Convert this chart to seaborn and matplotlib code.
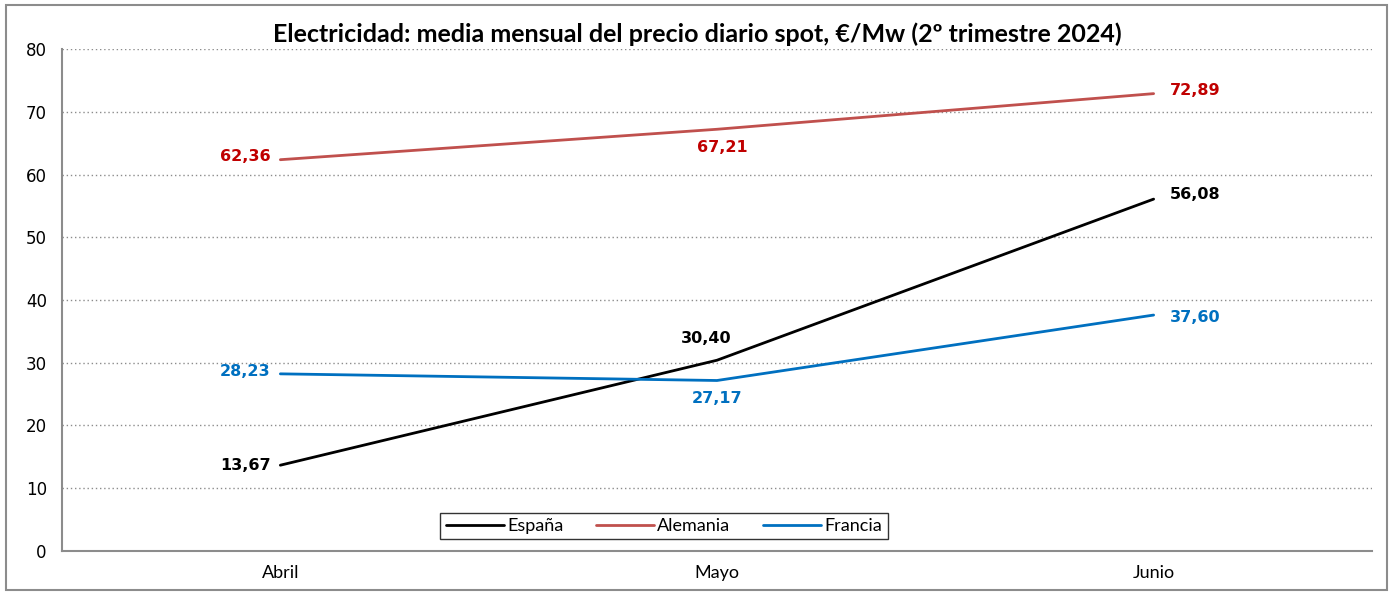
import pandas as pd
import seaborn as sns
import matplotlib.pyplot as plt
from matplotlib.patches import Rectangle

# datos: media mensual del precio diario spot (2º trimestre 2024)
meses = ['Abril', 'Mayo', 'Junio']
espana = [13.67, 30.40, 56.08]
alemania = [62.36, 67.21, 72.89]
francia = [28.23, 27.17, 37.60]
paises = ['España', 'Alemania', 'Francia']
colores = {'España': '#000000', 'Alemania': '#C0504D', 'Francia': '#0070C0'}
color_etiqueta = {'España': '#000000', 'Alemania': '#C00000', 'Francia': '#0070C0'}

df = pd.DataFrame({
    'mes': meses * 3,
    'pais': ['España'] * 3 + ['Alemania'] * 3 + ['Francia'] * 3,
    'precio': espana + alemania + francia,
})

sns.set_style('white')
plt.rcParams['font.family'] = ['Lato', 'DejaVu Sans']
plt.rcParams['text.color'] = 'black'
plt.rcParams['xtick.color'] = 'black'
plt.rcParams['ytick.color'] = 'black'
plt.rcParams['axes.labelcolor'] = 'black'

fig = plt.figure(figsize=(13.91, 5.92), dpi=100)
ax = fig.add_axes([0.0446, 0.0693, 0.9417, 0.8479])

sns.lineplot(data=df, x='mes', y='precio', hue='pais', hue_order=paises,
             palette=colores, linewidth=2, ax=ax, sort=False)

ax.set_xlim(-0.5, 2.5)
ax.set_ylim(0, 80)
ax.set_yticks(range(0, 81, 10))
ax.set_xlabel('')
ax.set_ylabel('')
ax.grid(axis='y', color='#8c8c8c', linestyle=(0, (1, 2)), linewidth=1)
ax.set_axisbelow(True)
for s in ['top', 'right']:
    ax.spines[s].set_visible(False)
for s in ['left', 'bottom']:
    ax.spines[s].set_color('#8c8c8c')
    ax.spines[s].set_linewidth(1.5)
ax.tick_params(axis='y', length=5, color='#8c8c8c', labelcolor='black', width=1.2, pad=6)
ax.tick_params(axis='x', length=0, pad=10, labelcolor='black')
for t in ax.get_yticklabels():
    t.set_fontfamily('DejaVu Sans')
    t.set_fontsize(12)
for t in ax.get_xticklabels():
    t.set_fontsize(13)

ax.set_title('Electricidad: media mensual del precio diario spot, €/Mw (2º trimestre 2024)',
             fontsize=18, fontweight='bold', pad=5, color='black', x=0.4847)

# etiquetas de datos: desplazamiento en puntos y alineacion
series = {'España': espana, 'Alemania': alemania, 'Francia': francia}
offsets = {
    'España': [(-7, 0, 'right', 'center'), (-8, 16, 'center', 'center'), (12, 3, 'left', 'center')],
    'Alemania': [(-7, 2, 'right', 'center'), (4, -13, 'center', 'center'), (12, 2, 'left', 'center')],
    'Francia': [(-7, 1.5, 'right', 'center'), (0, -13, 'center', 'center'), (12, -2, 'left', 'center')],
}
for p in paises:
    for i, v in enumerate(series[p]):
        dx, dy, ha, va = offsets[p][i]
        ax.annotate(f'{v:.2f}'.replace('.', ','), (i, v), xytext=(dx, dy),
                    textcoords='offset points', ha=ha, va=va,
                    fontsize=11.5, fontweight='bold', fontfamily='DejaVu Sans',
                    color=color_etiqueta[p])

leg = ax.legend(loc='center', bbox_to_anchor=(0.4595, 0.0498), ncol=3,
                frameon=True, fancybox=False, fontsize=13, handlelength=3.2,
                handletextpad=0.2, columnspacing=1.8, borderpad=0.3)
leg.get_frame().set_edgecolor('black')
leg.get_frame().set_linewidth(1)
for t in leg.get_texts():
    t.set_color('black')

fig.patches.append(Rectangle((0.004, 0.003), 0.993, 0.989, transform=fig.transFigure,
                             fill=False, edgecolor='#8c8c8c', linewidth=1.5))

fig.savefig('out.png', dpi=100)
